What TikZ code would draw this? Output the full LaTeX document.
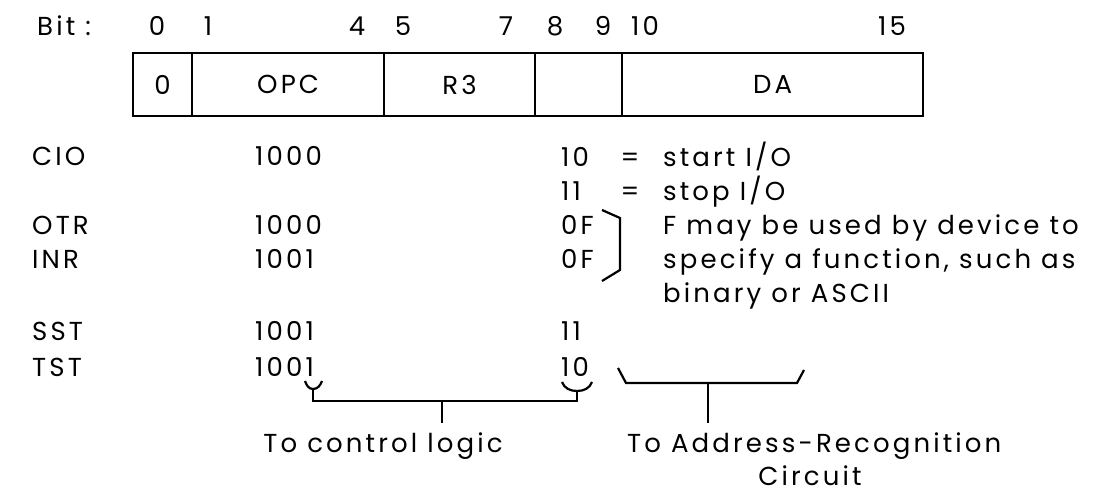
\documentclass[tikz,border=0pt]{standalone}
\usepackage{fontspec}
\setmainfont{Poppins}[LetterSpace=12]
\begin{document}
\begin{tikzpicture}[x=1pt,y=-1pt,
  txt/.style={font=\fontsize{26}{30}\selectfont, inner sep=0pt, anchor=base west},
  ctxt/.style={txt, anchor=base},
  field/.style={draw, line width=2.2pt, anchor=north west, minimum height=63pt, inner sep=0pt, font=\fontsize{26}{30}\selectfont},
  brk/.style={line width=2.2pt, line join=miter}]
\useasboundingbox (0,0) rectangle (1117,494);
% bit numbers
\node[txt] (bit) at (37,36) {Bit :};
\node[ctxt] (b0) at (157,36) {0};
\node[ctxt] (b1) at (208,36) {1};
\node[ctxt] (b4) at (357,36) {4};
\node[ctxt] (b5) at (403,36) {5};
\node[ctxt] (b7) at (506,36) {7};
\node[ctxt] (b8) at (555,36) {8};
\node[ctxt] (b9) at (603,36) {9};
\node[ctxt] (b10) at (645,36) {10};
\node[ctxt] (b15) at (892,36) {15};
% fields
\node[field, minimum width=59pt] (f0) at (132,52) {0};
\node[field, minimum width=192pt] (f1) at (191,52) {OPC};
\node[field, minimum width=151pt] (f2) at (383,52) {R3};
\node[field, minimum width=87pt] (f3) at (534,52) {};
\node[field, minimum width=301pt] (f4) at (621,52) {DA};
% mnemonics
\node[txt] (cio) at (32,166) {CIO};
\node[txt] (otr) at (32,235) {OTR};
\node[txt] (inr) at (32,269) {INR};
\node[txt] (sst) at (32,341) {SST};
\node[txt] (tst) at (32,377) {TST};
% opcodes
\node[txt] (ocio) at (255,166) {1000};
\node[txt] (ootr) at (255,235) {1000};
\node[txt] (oinr) at (255,269) {1001};
\node[txt] (osst) at (255,341) {1001};
\node[txt] (otst) at (255,377) {1001};
% bits 8-9
\node[txt] (c1) at (561,167) {10};
\node[txt] (c2) at (561,201) {11};
\node[txt] (c3) at (561,235) {0F};
\node[txt] (c4) at (561,269) {0F};
\node[txt] (c5) at (561,341) {11};
\node[txt] (c6) at (561,377) {10};
\node[ctxt] (e1) at (630,167) {=};
\node[ctxt] (e2) at (630,201) {=};
\node[txt] (d1) at (663,167) {start I/O};
\node[txt] (d2) at (663,201) {stop I/O};
\node[txt] (d3) at (663,235) {F may be used by device to};
\node[txt] (d4) at (663,269) {specify a function, such as};
\node[txt] (d5) at (663,303) {binary or ASCII};
% bracket for 0F
\draw[brk] (602,210) -- (620,218) -- (620,270) -- (602,281);
% bottom left bracket
\coordinate (lc) at (313,389);
\coordinate (rc) at (577,391);
\coordinate (ls) at (442,401);
\coordinate (le) at (442,423);
\draw[brk] (305,381) to[out=-70,in=180] (lc) to[out=0,in=-110] (322,381);
\draw[brk] (562,382) to[out=-70,in=180] (rc) to[out=0,in=-110] (592,382);
\draw[brk] (lc) -- (313,401) -- (577,401) -- (rc);
\draw[brk] (ls) -- (le);
% bottom right bracket
\coordinate (rs) at (708,383);
\coordinate (re) at (708,423);
\draw[brk] (618,368) -- (626,383) -- (797,383) -- (804,370);
\draw[brk] (rs) -- (re);
% labels
\node[ctxt] (tcl) at (383,452) {To control logic};
\node[txt] (tar) at (627,452) {To Address-Recognition};
\node[ctxt] (tci) at (810,485) {Circuit};
\end{tikzpicture}
\end{document}
